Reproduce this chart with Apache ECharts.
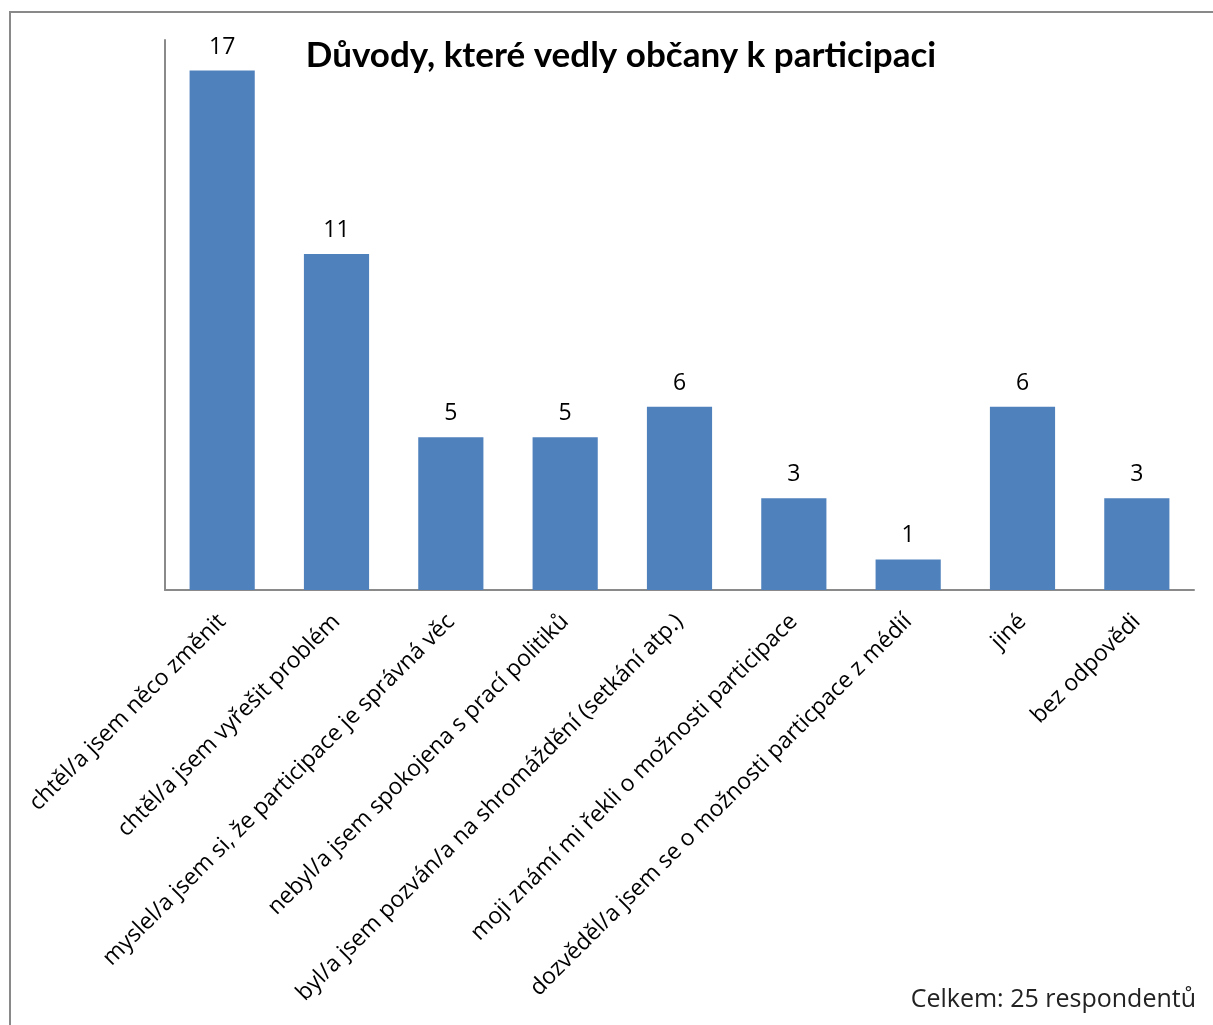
<!DOCTYPE html>
<html><head><meta charset="utf-8">
<script src="https://cdn.jsdelivr.net/npm/echarts@6/dist/echarts.min.js"></script>
<style>
html,body{margin:0;padding:0;background:#fff;}
#frame{position:absolute;left:9px;top:11px;width:1220px;height:1030px;border:2px solid #898989;box-sizing:border-box;}
#c{position:absolute;left:0;top:0;width:1213px;height:1025px;}
</style></head>
<body>
<div id="frame"></div>
<div id="c"></div>
<script>
const titleText = 'Důvody, které vedly občany k participaci';
const footerText = 'Celkem: 25 respondentů';
const categories = [
  'chtěl/a jsem něco změnit',
  'chtěl/a jsem vyřešit problém',
  'myslel/a jsem si, že participace je správná věc',
  'nebyl/a jsem spokojena s prací politiků',
  'byl/a jsem pozván/a na shromáždění (setkání atp.)',
  'moji známí mi řekli o možnosti participace',
  'dozvěděl/a jsem se o možnosti particpace z médií',
  'jiné',
  'bez odpovědi'
];
const values = [17, 11, 5, 5, 6, 3, 1, 6, 3];

const chart = echarts.init(document.getElementById('c'), null, {renderer:'canvas'});
const font = '"Open Sans", sans-serif';
chart.setOption({
  animation:false,
  backgroundColor:'transparent',
  title:[{
    text:titleText, left:616, top:33, textAlign:'center',
    textStyle:{fontFamily:'Lato, sans-serif', fontWeight:'bold', fontSize:35, color:'#000'}
  },{
    text:footerText, right:12, top:982,
    textStyle:{fontFamily:font, fontWeight:'normal', fontSize:25, color:'#222'}
  }],
  grid:{left:165, right:19, top:40, bottom:435, containLabel:false},
  xAxis:{
    type:'category', data:categories,
    axisLine:{show:true, lineStyle:{color:'#8a8a8a', width:2}},
    axisTick:{show:false},
    axisLabel:{rotate:45, interval:0, margin:28, fontFamily:font, fontSize:23, color:'#000'}
  },
  yAxis:{
    type:'value', min:0, max:18, interval:2,
    axisLine:{show:true, lineStyle:{color:'#8a8a8a', width:2}},
    axisTick:{show:false}, axisLabel:{show:false}, splitLine:{show:false}
  },
  series:[{
    type:'bar', data:values, barWidth:'57%',
    itemStyle:{color:'#4F81BD'},
    label:{show:true, position:'top', distance:12, fontFamily:font, fontSize:23, color:'#000'}
  }]
});
</script>
</body></html>
